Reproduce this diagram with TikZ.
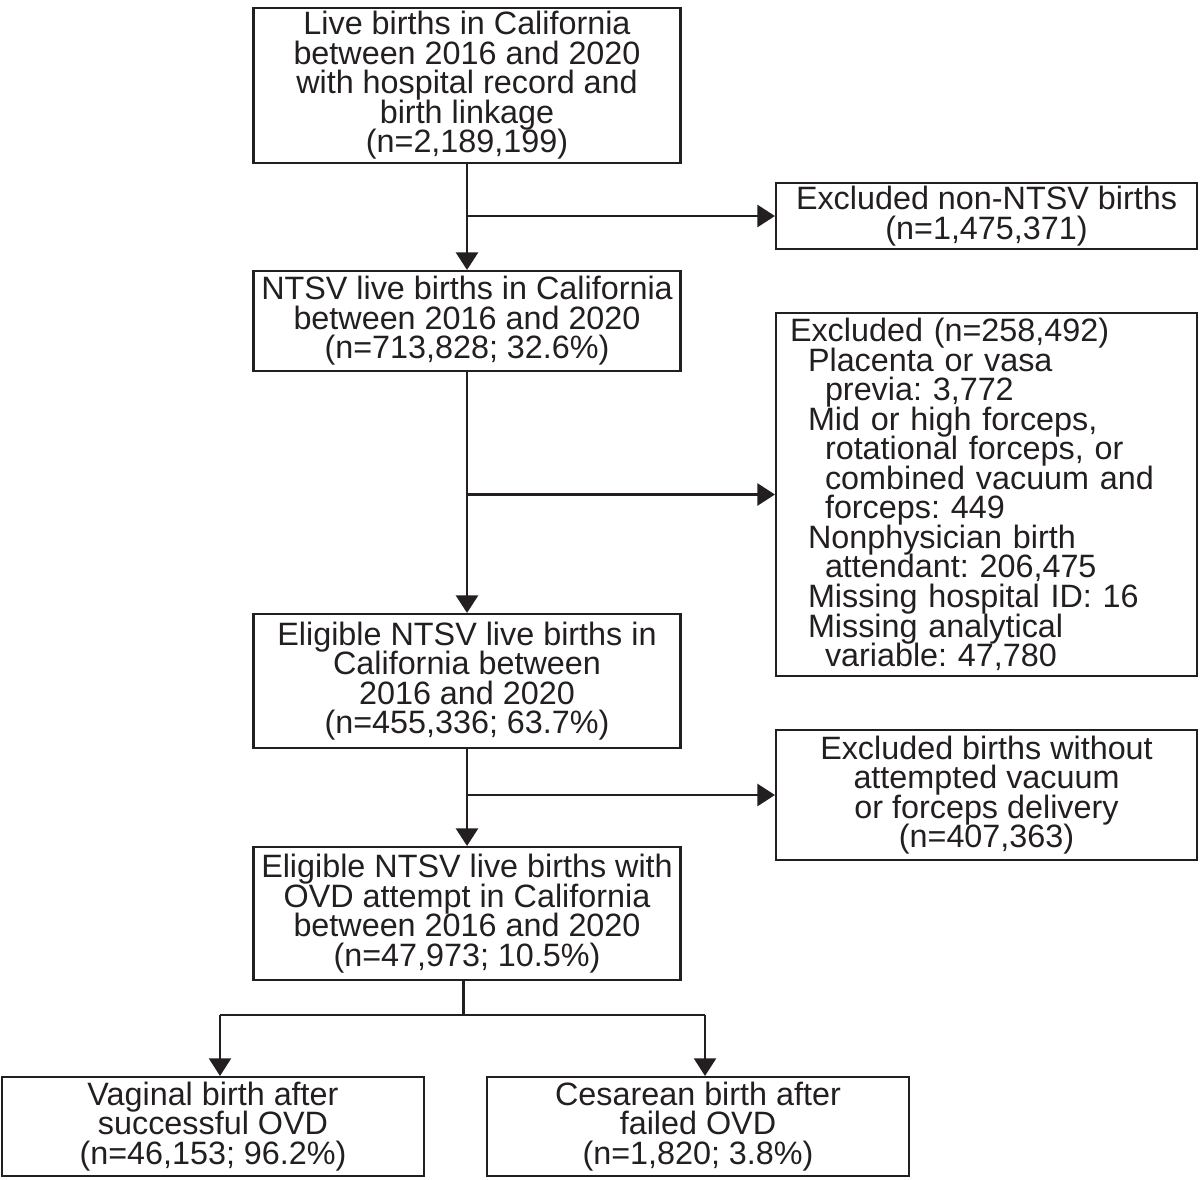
\documentclass[tikz,border=0pt]{standalone}
\usepackage{fontspec}
\setmainfont{Liberation Sans}
\usepackage{tikz}
\usetikzlibrary{arrows.meta}
\definecolor{ink}{HTML}{231F20}
\frenchspacing
\newcommand{\boxfont}{\fontsize{18.4}{16.8}\selectfont\lineskiplimit=-20pt\lineskip=0pt}

\begin{document}
\begin{tikzpicture}[line width = 1.2pt, draw = ink, text = ink,
                      stage/.style = {draw, align = center, inner sep = 0pt, font = \boxfont},
                      drop/.style = {draw, align = left, inner xsep = 0.28cm, inner ysep = 0pt,
                                     text width = 7.86cm, font = \boxfont},
                      arr/.style = {line width = 1.6pt, -{Triangle[length = 10pt, width = 12.5pt]}}]
    \useasboundingbox (0, 0) rectangle (24, -23.58);

    \node [stage, minimum width = 8.54cm, minimum height = 3.10cm] (s1) at (9.34, -1.71)
        {Live births in California\\between 2016 and 2020\\with hospital record and\\birth linkage\\(n=2,189,199)};
    \node [stage, minimum width = 8.42cm, minimum height = 1.32cm] (e1) at (19.73, -4.32)
        {Excluded non-NTSV births\\(n=1,475,371)};
    \node [stage, minimum width = 8.54cm, minimum height = 2.00cm] (s2) at (9.34, -6.42)
        {NTSV live births in California\\between 2016 and 2020\\(n=713,828; 32.6\%)};
    \node [drop, minimum height = 7.26cm] (e2) at (19.73, -9.89)
        {Excluded (n=258,492)\\
         \hspace*{0.36cm}Placenta or vasa\\
         \hspace*{0.70cm}previa: 3,772\\
         \hspace*{0.36cm}Mid or high forceps,\\
         \hspace*{0.70cm}rotational forceps, or\\
         \hspace*{0.70cm}combined vacuum and\\
         \hspace*{0.70cm}forceps: 449\\
         \hspace*{0.36cm}Nonphysician birth\\
         \hspace*{0.70cm}attendant: 206,475\\
         \hspace*{0.36cm}Missing hospital ID: 16\\
         \hspace*{0.36cm}Missing analytical\\
         \hspace*{0.70cm}variable: 47,780};
    \node [stage, minimum width = 8.54cm, minimum height = 2.68cm] (s3) at (9.34, -13.62)
        {Eligible NTSV live births in\\California between\\2016 and 2020\\(n=455,336; 63.7\%)};
    \node [stage, minimum width = 8.42cm, minimum height = 2.60cm] (e3) at (19.73, -15.90)
        {Excluded births without\\attempted vacuum\\or forceps delivery\\(n=407,363)};
    \node [stage, minimum width = 8.54cm, minimum height = 2.66cm] (s4) at (9.34, -18.27)
        {Eligible NTSV live births with\\OVD attempt in California\\between 2016 and 2020\\(n=47,973; 10.5\%)};
    \node [stage, minimum width = 8.44cm, minimum height = 1.98cm] (o1) at (4.26, -22.53)
        {Vaginal birth after\\successful OVD\\(n=46,153; 96.2\%)};
    \node [stage, minimum width = 8.44cm, minimum height = 1.98cm] (o2) at (13.96, -22.53)
        {Cesarean birth after\\failed OVD\\(n=1,820; 3.8\%)};

    \draw [arr] (s1) -- (s2);
    \draw [arr] (s1.south |- e1.west) -- (e1);
    \draw [arr] (s2) -- (s3);
    \draw [arr] (s2.south |- e2.west) -- (e2);
    \draw [arr] (s3) -- (s4);
    \draw [arr] (s3.south |- e3.west) -- (e3);

    % split to the two outcomes
    \coordinate (split) at (9.27, -20.30);
    \coordinate (t1) at ([xshift = 0.14cm]o1.north);
    \coordinate (t2) at ([xshift = 0.14cm]o2.north);
    \draw (s4.south -| split) -- (split);
    \draw (t1 |- split) -- (t2 |- split);
    \draw [arr, line width = 1.2pt] (t1 |- split) -- (t1);
    \draw [arr, line width = 1.2pt] (t2 |- split) -- (t2);
\end{tikzpicture}
\end{document}
